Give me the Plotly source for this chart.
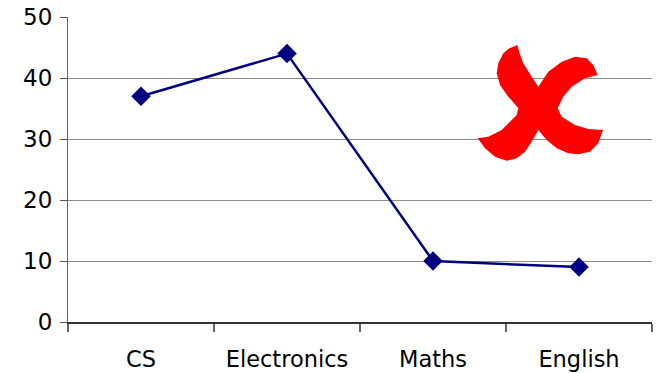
import plotly.graph_objects as go

# Enrolment by department
departments = ["CS", "Electronics", "Maths", "English"]
students = [37, 44, 10, 9]
y_ticks = [0, 10, 20, 30, 40, 50]

W, H = 656, 373
L, R, T, B = 68, 4, 17, 51
PW, PH = W - L - R, H - T - B

fig = go.Figure()
fig.add_trace(go.Scatter(
    x=departments, y=students, mode="lines+markers",
    line=dict(color="#000080", width=2.5),
    marker=dict(symbol="diamond", size=15, color="#000080"),
    cliponaxis=False, showlegend=False,
))

# Red cross outline in pixel coordinates (converted to paper units)
cross_px = [
    # upper-left arm, outer edge
    (517.3, 45), (509, 48.5), (503.3, 53.3), (498.3, 63.3), (496.7, 73.3),
    (500, 85), (508.3, 96.7), (513.5, 102.5), (518.3, 108.3),
    # lower-left arm, top edge
    (516.7, 115), (511.7, 120), (501.7, 130), (488.3, 136.7), (477.7, 138.3),
    # lower-left arm, tip and bottom edge
    (485, 148.3), (495, 156.7), (506.7, 160.7), (516.7, 158.3),
    (525, 151.7), (531.7, 141.7), (538.3, 130),
    # lower-right arm, bottom edge
    (546.7, 140), (556.7, 148.3), (568.3, 153.3), (578.3, 154.3),
    (590, 151.7), (598.3, 143.3), (602.3, 131.7), (603.3, 130),
    # lower-right arm, top edge
    (588.3, 129), (575, 125), (561.7, 116.7), (557.7, 108.3),
    # upper-right arm, lower edge
    (563.3, 96.7), (571.7, 86.7), (585, 78.3), (597.7, 75),
    # upper-right arm, tip and top edge
    (593.3, 65), (586.7, 58.3), (575, 56.7), (561.7, 61.7), (548.3, 71.7),
    (538.3, 86.7),
    # upper-left arm, inner edge
    (531.7, 76.7), (523.3, 63.3), (519.5, 53),
]

def to_paper(px, py):
    return (px - L) / PW, (H - B - py) / PH

pts = [to_paper(px, py) for px, py in cross_px]
path = "M " + " L ".join(f"{x:.4f},{y:.4f}" for x, y in pts) + " Z"
fig.add_shape(type="path", path=path, xref="paper", yref="paper",
              fillcolor="#ff0000", line=dict(width=0), layer="above")

fig.update_layout(
    width=W, height=H,
    margin=dict(l=L, r=R, t=T, b=B, autoexpand=False),
    paper_bgcolor="white", plot_bgcolor="white",
    font=dict(family="DejaVu Sans", size=22, color="black"),
    xaxis=dict(
        type="category", range=[-0.5, 3.5], tickson="boundaries",
        ticks="outside", ticklen=8, tickcolor="#666666", tickwidth=1.5,
        ticklabelstandoff=16, automargin=False,
        showgrid=False, showline=True, linecolor="#333333", linewidth=1.5,
        zeroline=False, tickfont=dict(size=22.5),
    ),
    yaxis=dict(
        range=[0, 50], tickvals=y_ticks,
        ticks="outside", ticklen=7, tickcolor="#555555", tickwidth=1.2,
        ticklabelstandoff=3, automargin=False,
        showgrid=True, gridcolor="#8c8c8c", gridwidth=1,
        showline=True, linecolor="#666666", linewidth=1.2,
        zeroline=False, tickfont=dict(size=23),
    ),
)

fig.write_html("out.html")
